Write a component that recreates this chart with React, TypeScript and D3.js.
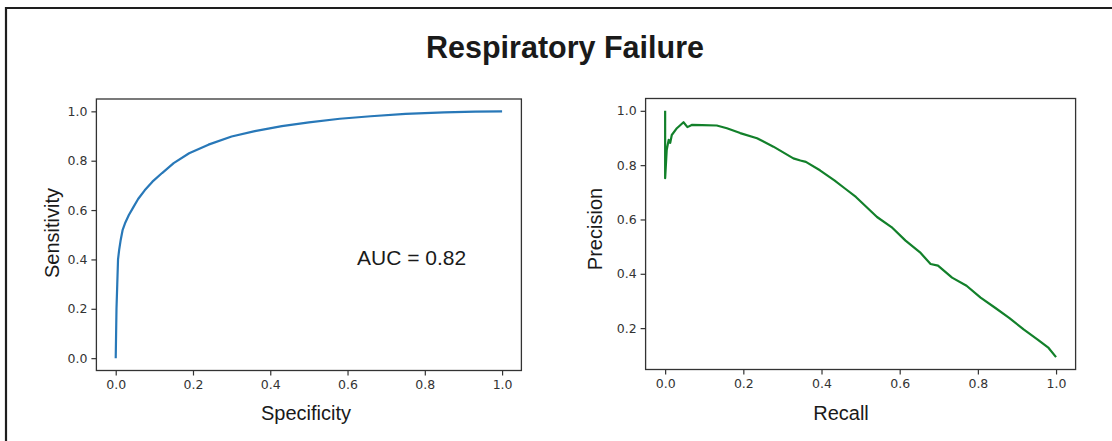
import React, { useRef, useEffect } from 'react';
import * as d3 from 'd3';

// ROC curve (left panel)
const rocFpr = [0, 0.001, 0.002, 0.004, 0.006, 0.009, 0.013, 0.018, 0.025, 0.034, 0.045, 0.058, 0.075, 0.095, 0.12, 0.15, 0.19, 0.24, 0.3, 0.36, 0.43, 0.5, 0.58, 0.66, 0.75, 0.85, 0.93, 1.0];
const rocTpr = [0, 0.1, 0.2, 0.3, 0.4, 0.44, 0.48, 0.52, 0.55, 0.58, 0.61, 0.645, 0.68, 0.715, 0.75, 0.79, 0.83, 0.865, 0.898, 0.92, 0.94, 0.955, 0.97, 0.98, 0.99, 0.996, 0.999, 1.0];

// precision-recall curve (right panel)
const prRecall = [0, 0, 0.004, 0.009, 0.013, 0.017, 0.03, 0.047, 0.057, 0.068, 0.095, 0.132, 0.158, 0.192, 0.235, 0.277, 0.328, 0.346, 0.36, 0.396, 0.433, 0.46, 0.488, 0.515, 0.542, 0.579, 0.615, 0.652, 0.679, 0.698, 0.734, 0.771, 0.807, 0.844, 0.88, 0.917, 0.953, 0.981, 1.0];
const prPrecision = [1.0, 0.752, 0.856, 0.893, 0.882, 0.911, 0.936, 0.958, 0.94, 0.948, 0.947, 0.946, 0.936, 0.918, 0.899, 0.868, 0.825, 0.817, 0.812, 0.781, 0.744, 0.714, 0.683, 0.646, 0.609, 0.572, 0.522, 0.479, 0.436, 0.43, 0.386, 0.356, 0.312, 0.275, 0.238, 0.195, 0.158, 0.127, 0.093];

const unitTicks = [0, 0.2, 0.4, 0.6, 0.8, 1.0];
const prYTicks = [0.2, 0.4, 0.6, 0.8, 1.0];

const title = 'Respiratory Failure';
const aucText = 'AUC = 0.82';

// matplotlib style 5% margins
function padded(vals: number[]) {
  const [lo, hi] = d3.extent(vals) as [number, number];
  const m = (hi - lo) * 0.05;
  return [lo - m, hi + m];
}

type PanelProps = {
  xs: number[];
  ys: number[];
  yTicks: number[];
  box: { x0: number; x1: number; y0: number; y1: number };
  color: string;
};

function Panel({ xs, ys, yTicks, box, color }: PanelProps) {
  const ref = useRef<SVGGElement>(null);
  useEffect(() => {
    const g = d3.select(ref.current);
    g.selectAll('*').remove();
    const x = d3.scaleLinear().domain(padded(xs)).range([box.x0, box.x1]);
    const y = d3.scaleLinear().domain(padded(ys)).range([box.y1, box.y0]);

    const fmt = d3.format('.1f');
    const xa = g.append('g').attr('transform', `translate(0,${box.y1})`)
      .call(d3.axisBottom(x).tickValues(unitTicks).tickFormat(d => fmt(d as number)).tickSize(5).tickPadding(5));
    const ya = g.append('g').attr('transform', `translate(${box.x0},0)`)
      .call(d3.axisLeft(y).tickValues(yTicks).tickFormat(d => fmt(d as number)).tickSize(5).tickPadding(4));
    [xa, ya].forEach(a => {
      a.select('.domain').remove();
      a.selectAll('line').attr('stroke', '#333').attr('stroke-width', 1.2);
      a.selectAll('text').attr('fill', '#333').style('font-family', '"DejaVu Sans", sans-serif').style('font-size', '12.5px');
    });

    g.append('rect')
      .attr('x', box.x0).attr('y', box.y0)
      .attr('width', box.x1 - box.x0).attr('height', box.y1 - box.y0)
      .attr('fill', 'none').attr('stroke', '#333').attr('stroke-width', 1.3);

    const pts = xs.map((v, i) => [v, ys[i]] as [number, number]);
    const path = d3.line<[number, number]>().x(d => x(d[0])).y(d => y(d[1]));
    g.append('path')
      .attr('d', path(pts))
      .attr('fill', 'none').attr('stroke', color)
      .attr('stroke-width', 2.2).attr('stroke-linejoin', 'round');
  }, [xs, ys, yTicks, box, color]);
  return <g ref={ref} />;
}

const labelFont = '"Liberation Sans", Arial, sans-serif';

export default function App() {
  return (
    <svg width={1112} height={441} style={{ position: 'absolute', left: 0, top: 0, background: '#fff' }}>
      <line x1={5} y1={8} x2={1112} y2={8} stroke="#1e1e1e" strokeWidth={2.2} />
      <line x1={6} y1={7} x2={6} y2={441} stroke="#1e1e1e" strokeWidth={2.2} />
      <text x={565} y={58} textAnchor="middle" fontFamily={labelFont} fontWeight="bold" fontSize={30.5} fill="#1a1a1a">{title}</text>

      <Panel xs={rocFpr} ys={rocTpr} yTicks={unitTicks} box={{ x0: 96.4, x1: 521.4, y0: 99, y1: 370.5 }} color="#2878b8" />
      <Panel xs={prRecall} ys={prPrecision} yTicks={prYTicks} box={{ x0: 645.6, x1: 1075.6, y0: 98.5, y1: 369.5 }} color="#12802a" />

      <text x={357} y={265} fontFamily={labelFont} fontSize={21} fill="#1a1a1a">{aucText}</text>
      <text transform="translate(58.5,233) rotate(-90)" textAnchor="middle" fontFamily={labelFont} fontSize={20} fill="#1a1a1a">Sensitivity</text>
      <text transform="translate(601.5,229) rotate(-90)" textAnchor="middle" fontFamily={labelFont} fontSize={20} fill="#1a1a1a">Precision</text>
      <text x={306} y={420} textAnchor="middle" fontFamily={labelFont} fontSize={20} fill="#1a1a1a">Specificity</text>
      <text x={841} y={420} textAnchor="middle" fontFamily={labelFont} fontSize={20} fill="#1a1a1a">Recall</text>
    </svg>
  );
}
